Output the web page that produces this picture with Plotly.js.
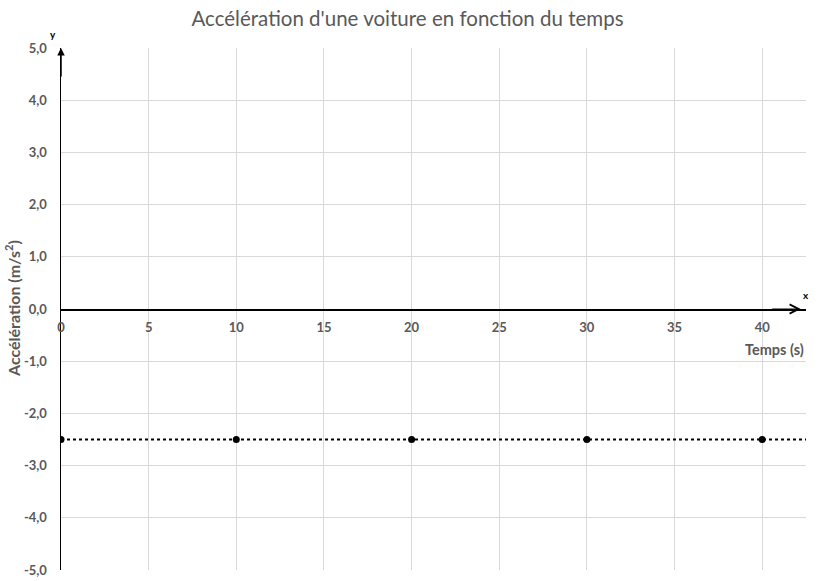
<!DOCTYPE html>
<html><head><meta charset="utf-8">
<script src="https://cdn.plot.ly/plotly-3.0.1.min.js"></script>
<style>html,body{margin:0;padding:0;background:#fff}#chart{width:820px;height:581px}</style>
</head><body><div id="chart"></div>
<script>
const times = [0, 10, 20, 30, 40];
const accel = [-2.5, -2.5, -2.5, -2.5, -2.5];
const xAxisRange = [0, 42.5];
const yAxisRange = [-5, 5];
const xTicks = [0, 5, 10, 15, 20, 25, 30, 35, 40];
const yTicks = [-5, -4, -3, -2, -1, 0, 1, 2, 3, 4, 5];
const yTickLabels = ['-5,0', '-4,0', '-3,0', '-2,0', '-1,0', '0,0', '1,0', '2,0', '3,0', '4,0', '5,0'];
const titleText = "Accélération d'une voiture en fonction du temps";
const xTitle = "Temps (s)";
const yTitle = "Accélération (m/s<sup>2</sup>)";

const font = "Lato, 'Open Sans', sans-serif";
const grey = '#595959';

const trendY = accel.reduce((a, b) => a + b, 0) / accel.length;

const traces = [
  {x: [times[0], xAxisRange[1]], y: [trendY, trendY], mode: 'lines',
   line: {color: '#000', width: 2, dash: 'dot'}, hoverinfo: 'skip', showlegend: false},
  {x: times, y: accel, mode: 'markers', marker: {color: '#000', size: 7}, showlegend: false}
];

const layout = {
  width: 820, height: 581,
  margin: {l: 61, r: 14, t: 48, b: 11},
  paper_bgcolor: '#fff', plot_bgcolor: '#fff',
  title: {text: titleText, font: {family: font, size: 20.5, color: grey}, x: 0.497, xanchor: 'center', xref: 'container', y: 0.968, yanchor: 'middle'},
  xaxis: {
    range: xAxisRange, tickvals: xTicks, ticktext: xTicks.map(String),
    anchor: 'free', position: 0.5,
    showgrid: true, gridcolor: '#d9d9d9', gridwidth: 1,
    showline: true, linecolor: '#000', linewidth: 1.5,
    zeroline: false, ticks: '', ticklabelstandoff: 6,
    tickfont: {family: font, size: 13, color: grey, weight: 'bold'},
    fixedrange: true
  },
  yaxis: {
    range: yAxisRange, tickvals: yTicks, ticktext: yTickLabels,
    showgrid: true, gridcolor: '#d9d9d9', gridwidth: 1,
    showline: true, linecolor: '#000', linewidth: 1.5,
    zeroline: false, ticks: '', ticklabelstandoff: 10,
    tickfont: {family: font, size: 13, color: grey, weight: 'bold'},
    fixedrange: true
  },
  annotations: [
    {xref: 'x', yref: 'y', x: 0, y: yAxisRange[1], ax: 0, ay: 30, showarrow: true,
     arrowhead: 2, arrowsize: 1, arrowwidth: 1.5, arrowcolor: '#000', text: ''},
    {xref: 'x', yref: 'y', x: 42.2, y: 0, ax: -30, ay: 0, showarrow: true,
     arrowhead: 5, arrowsize: 1.5, arrowwidth: 1.2, arrowcolor: '#000', text: ''},
    {xref: 'paper', yref: 'paper', x: -0.011, y: 1.012, xanchor: 'center', yanchor: 'bottom',
     text: '<b>y</b>', showarrow: false, font: {family: font, size: 10, color: '#000'}},
    {xref: 'paper', yref: 'y', x: 1.0, y: 0.12, xanchor: 'center', yanchor: 'bottom',
     text: '<b>x</b>', showarrow: false, font: {family: font, size: 10, color: '#000'}},
    {xref: 'paper', yref: 'paper', x: 1.0, y: 0.5, yshift: -40, xanchor: 'right', yanchor: 'middle',
     text: '<b>' + xTitle + '</b>', showarrow: false, font: {family: font, size: 14.5, color: grey}},
    {xref: 'paper', yref: 'paper', x: 0, xshift: -49, y: 0.5, xanchor: 'center', yanchor: 'middle', textangle: -90,
     text: '<b>' + yTitle + '</b>', showarrow: false, font: {family: font, size: 16, color: grey}}
  ]
};

Plotly.newPlot('chart', traces, layout, {displayModeBar: false, staticPlot: true});
</script></body></html>
